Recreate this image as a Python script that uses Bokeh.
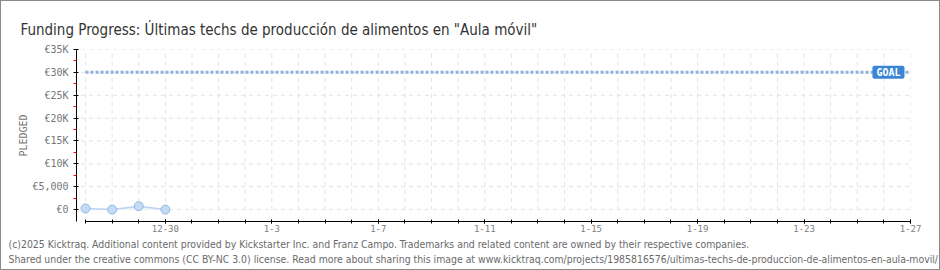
from bokeh.plotting import figure
from bokeh.models import ColumnDataSource, FixedTicker, Label, Range1d, Title
from bokeh.embed import file_html
from bokeh.resources import INLINE

# ---- data -------------------------------------------------------------
title_text = 'Funding Progress: Últimas techs de producción de alimentos en "Aula móvil"'
footer_1 = ("(c)2025 Kicktraq. Additional content provided by Kickstarter Inc. and Franz Campo. "
            "Trademarks and related content are owned by their respective companies.")
footer_2 = ("Shared under the creative commons (CC BY-NC 3.0) license. Read more about sharing this image at "
            "www.kicktraq.com/projects/1985816576/ultimas-techs-de-produccion-de-alimentos-en-aula-movil/")

axis_days = (["12-27", "12-28", "12-29", "12-30", "12-31"]
             + [f"1-{d}" for d in range(1, 28)])
days = ["12-27", "12-28", "12-29", "12-30"]
pledged = [250, 0, 750, 0]
goal = 30000

x_tick_labels = ["12-30", "1-3", "1-7", "1-11", "1-15", "1-19", "1-23", "1-27"]
y_ticks = [0, 5000, 10000, 15000, 20000, 25000, 30000, 35000]
y_tick_labels = ["€0", "€5,000", "€10K", "€15K", "€20K", "€25K", "€30K", "€35K"]

# ---- derived positions --------------------------------------------------
idx = {d: i for i, d in enumerate(axis_days)}
x_pts = [idx[d] for d in days]
x_major = [idx[d] for d in x_tick_labels]
x_all = list(range(len(axis_days)))
y_minor = [t + 2500 for t in y_ticks[:-1]]
x_first, x_last = x_all[0], x_all[-1]

TICK_FONT = "DejaVu Sans Mono"
TEXT_FONT = "DejaVu Sans Condensed"
GRID = "#e2e2e2"

# 938x268 canvas plus a 1px grey border = 940x270
p = figure(width=938, height=268, output_backend="svg", toolbar_location=None,
           x_range=Range1d(x_first - 0.34, x_last), y_range=Range1d(-2600, y_ticks[-1]),
           min_border_left=75, min_border_right=29, min_border_top=48, min_border_bottom=48,
           frame_width=834, frame_height=172,
           styles={"border": "1px solid #8a8a8a"})
p.outline_line_color = None
p.background_fill_color = "white"
p.border_fill_color = "white"
p.xgrid.visible = False
p.ygrid.visible = False

# dashed grid
p.segment(x0=x_all, y0=[0] * len(x_all), x1=x_all, y1=[y_ticks[-1]] * len(x_all),
          line_color=GRID, line_dash="4 4", line_width=1)
p.segment(x0=[x_first - 0.17] * len(y_ticks), y0=y_ticks, x1=[x_last] * len(y_ticks), y1=y_ticks,
          line_color=GRID, line_dash="4 4", line_width=1)

# goal line
p.line(x=[x_first, x_last], y=[goal, goal], line_color="#8db0de", line_width=3, line_dash="3 2")

# pledged series
src = ColumnDataSource(dict(x=x_pts, y=pledged))
p.varea(x="x", y1=0, y2="y", source=src, fill_color="#eaf2fc")
p.line(x="x", y="y", source=src, line_color="#b9d4f2", line_width=1.5)
p.scatter(x="x", y="y", source=src, size=9, fill_color="#c3dbf6", line_color="#93b6e2", line_width=1)

# goal label
p.add_layout(Label(x=x_last, y=goal, x_offset=-6, text="GOAL", text_align="right",
                   text_baseline="middle", text_color="white", text_font=TICK_FONT,
                   text_font_size="10px", text_font_style="bold",
                   background_fill_color="#3b86d4", border_radius=2, padding=(4, 4, 1, 1)))

# x axis
xa = p.xaxis[0]
xa.ticker = FixedTicker(ticks=x_major, minor_ticks=x_all)
xa.major_label_overrides = {i: lab for i, lab in zip(x_major, x_tick_labels)}
xa.bounds = (x_first, x_last)
xa.axis_line_color = "black"
xa.major_tick_line_color = "black"
xa.minor_tick_line_color = "black"
xa.major_tick_in, xa.major_tick_out = 2, 2
xa.minor_tick_in, xa.minor_tick_out = 2, 2
xa.major_label_text_font = TICK_FONT
xa.major_label_text_font_size = "9px"
xa.major_label_text_color = "#808080"
xa.major_label_standoff = 1

# y axis
ya = p.yaxis[0]
ya.ticker = FixedTicker(ticks=y_ticks, minor_ticks=y_minor)
ya.major_label_overrides = {t: lab for t, lab in zip(y_ticks, y_tick_labels)}
ya.axis_line_color = "black"
ya.major_tick_line_color = "black"
ya.minor_tick_line_color = "red"
ya.major_tick_in, ya.major_tick_out = 2, 3
ya.minor_tick_in, ya.minor_tick_out = 0, 3
ya.major_label_text_font = TICK_FONT
ya.major_label_text_font_size = "10px"
ya.major_label_text_color = "#777777"
ya.major_label_standoff = 5
ya.axis_label = "PLEDGED"
ya.axis_label_text_font = TICK_FONT
ya.axis_label_text_font_size = "10px"
ya.axis_label_text_font_style = "normal"
ya.axis_label_text_color = "#777777"
ya.axis_label_standoff = 0

# title
p.title.text = title_text
p.title.text_font = TEXT_FONT
p.title.text_font_size = "15px"
p.title.text_font_style = "normal"
p.title.text_color = "#333333"
p.title.offset = -56
p.title.standoff = 21

# footer lines
for i, txt in enumerate([footer_1, footer_2]):
    p.add_layout(Title(text=txt, align="left", offset=-68, standoff=2 if i == 0 else 0,
                       text_font=TEXT_FONT, text_font_size="10.4px", text_font_style="normal",
                       text_color="#6a6a6a"), "below")

open("out.html", "w").write(file_html(p, INLINE))
